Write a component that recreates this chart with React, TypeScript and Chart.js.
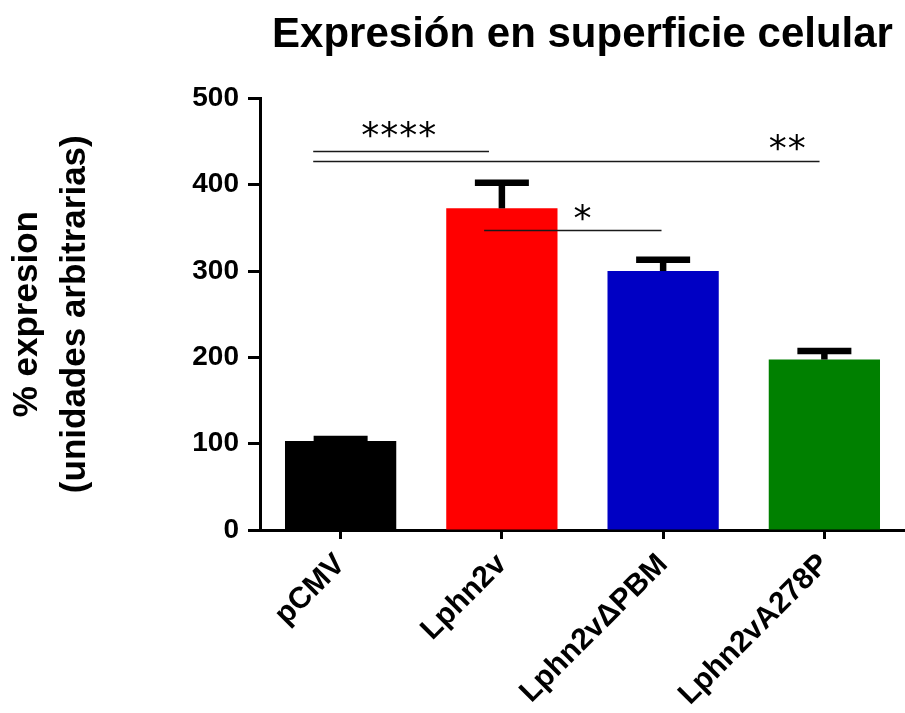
import React, { useEffect, useRef } from "react";
import { Chart, registerables } from "chart.js";

Chart.register(...registerables);

const categories = ["pCMV", "Lphn2v", "Lphn2v\u0394PBM", "Lphn2vA278P"];
const means = [103, 372.6, 300, 197.5];
const errors = [2.3, 29.6, 13.2, 10];
const barColors = ["#000000", "#FF0000", "#0000C4", "#008000"];
const yTicks = [0, 100, 200, 300, 400, 500];

// significance annotations (category-index units on x, data units on y)
const sigLabels = ["****", "**", "*"];
const sigLineY = [438.7, 427.9, 347.2];
const sigStart = [-0.17, -0.17, 0.89];
const sigEnd = [0.92, 2.97, 1.99];
const sigTextX = [0.36, 2.77, 1.5];
const sigTextY = [461, 447, 365];

const FONT = "'Liberation Sans', Arial, sans-serif";

const overlayPlugin = {
  id: "overlay",
  afterDatasetsDraw(chart: any) {
    const ctx = chart.ctx;
    const xs = chart.scales.x;
    const ys = chart.scales.y;
    const meta = chart.getDatasetMeta(0);
    ctx.save();
    // error bars
    ctx.strokeStyle = "#000";
    ctx.fillStyle = "#000";
    means.forEach((m, i) => {
      const el = meta.data[i];
      const cx = el.x;
      const yTop = ys.getPixelForValue(m);
      const yErr = ys.getPixelForValue(m + errors[i]);
      const half = 27;
      ctx.lineWidth = 6.5;
      ctx.beginPath();
      ctx.moveTo(cx, yTop);
      ctx.lineTo(cx, yErr);
      ctx.stroke();
      ctx.beginPath();
      ctx.moveTo(cx - half, yErr);
      ctx.lineTo(cx + half, yErr);
      ctx.stroke();
    });
    // significance lines
    const step = xs.getPixelForValue(1) - xs.getPixelForValue(0);
    const px = (v: number) => xs.getPixelForValue(0) + v * step;
    ctx.strokeStyle = "#1a1a1a";
    ctx.lineWidth = 1.3;
    sigLabels.forEach((lab, i) => {
      const y = Math.round(ys.getPixelForValue(sigLineY[i])) + 0.5;
      ctx.beginPath();
      ctx.moveTo(px(sigStart[i]), y);
      ctx.lineTo(px(sigEnd[i]), y);
      ctx.stroke();
      ctx.font = "36px 'DejaVu Sans', sans-serif";
      ctx.textAlign = "center";
      ctx.textBaseline = "middle";
      const spacing = 19;
      const cx = px(sigTextX[i]);
      const ty = ys.getPixelForValue(sigTextY[i]) + 6;
      const n = lab.length;
      for (let k = 0; k < n; k++) {
        ctx.fillText(lab[k], cx + (k - (n - 1) / 2) * spacing, ty);
      }
    });
    ctx.restore();
  },
};

export default function App() {
  const ref = useRef<HTMLCanvasElement | null>(null);
  useEffect(() => {
    if (!ref.current) return;
    const chart = new Chart(ref.current, {
      type: "bar",
      data: {
        labels: categories,
        datasets: [
          {
            data: means,
            backgroundColor: barColors,
            borderWidth: 0,
            barPercentage: 0.69,
            categoryPercentage: 1,
          },
        ],
      },
      options: {
        responsive: false,
        animation: false,
        devicePixelRatio: 1,
        layout: { padding: 0 },
        plugins: {
          legend: { display: false },
          tooltip: { enabled: false },
          title: {
            display: true,
            text: "Expresión en superficie celular",
            color: "#000",
            fullSize: false,
            font: { family: FONT, size: 42, weight: "bold" },
            padding: { top: 10, bottom: 38 },
          },
        },
        scales: {
          x: {
            type: "category",
            offset: true,
            afterFit: (s: any) => {
              s.height = 183;
            },
            border: { display: true, color: "#000", width: 3 },
            grid: {
              display: true,
              drawOnChartArea: false,
              drawTicks: true,
              tickLength: 9,
              tickWidth: 3,
              tickColor: "#000",
              offset: false,
            },
            ticks: {
              color: "#000",
              minRotation: 45,
              maxRotation: 45,
              autoSkip: false,
              padding: 8,
              font: { family: FONT, size: 30, weight: "bold" },
            },
          },
          y: {
            min: 0,
            max: 500,
            afterFit: (s: any) => {
              s.width = 260;
            },
            afterBuildTicks: (s: any) => {
              s.ticks = yTicks.map((v) => ({ value: v }));
            },
            border: { display: true, color: "#000", width: 3 },
            grid: {
              display: true,
              drawOnChartArea: false,
              drawTicks: true,
              tickLength: 12,
              tickWidth: 3,
              tickColor: "#000",
            },
            ticks: {
              color: "#000",
              padding: 9,
              font: { family: FONT, size: 28, weight: "bold" },
            },
            title: {
              display: true,
              text: ["% expresion", "(unidades arbitrarias)"],
              color: "#000",
              font: { family: FONT, size: 35, weight: "bold", lineHeight: 1.37 },
              padding: { top: 3, bottom: 0 },
            },
          },
        },
      },
      plugins: [overlayPlugin],
    });
    return () => chart.destroy();
  }, []);
  return (
    <div style={{ position: "absolute", left: 0, top: 0, width: 905, height: 713, background: "#fff" }}>
      <canvas ref={ref} width={905} height={713} style={{ width: 905, height: 713, display: "block" }} />
    </div>
  );
}
